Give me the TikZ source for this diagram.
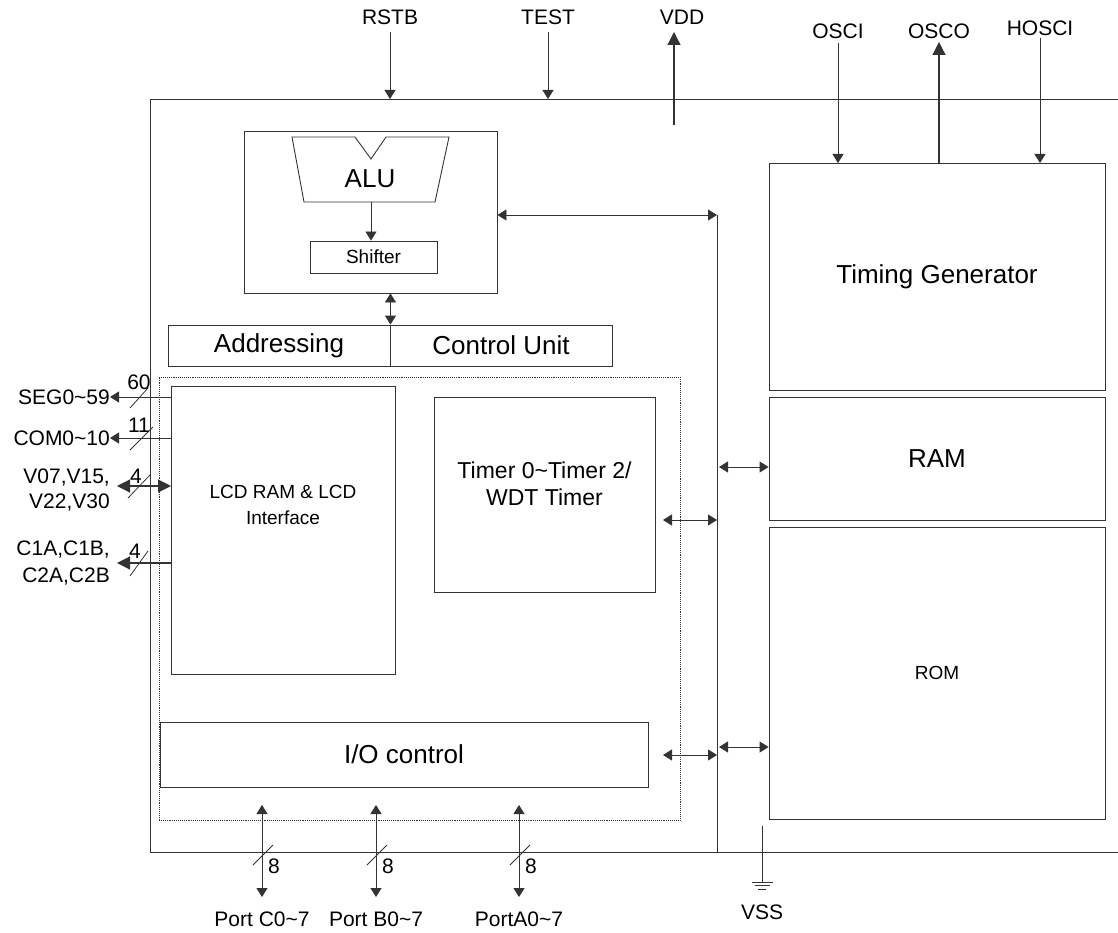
\documentclass[tikz,border=0pt]{standalone}
\usepackage{fontspec}
\setmainfont{Liberation Sans}
\usetikzlibrary{arrows.meta}
\definecolor{ln}{gray}{0.2}
\begin{document}
\begin{tikzpicture}[x=1pt,y=-1pt,
  blk/.style={draw=ln, line width=0.9pt, inner sep=0pt},
  big/.style={font=\fontsize{26}{30}\selectfont},
  mid/.style={font=\fontsize{19}{26}\selectfont, align=center},
  pin/.style={font=\fontsize{21}{25}\selectfont, inner sep=0pt},
  prt/.style={font=\fontsize{21}{24}\selectfont, inner sep=0pt},
  num/.style={font=\fontsize{21}{23}\selectfont, inner sep=0pt},
  wire/.style={draw=ln, line width=0.9pt},
  arr/.style={wire, -{Triangle[length=9pt,width=11pt]}},
  darr/.style={wire, {Triangle[length=9pt,width=11pt]}-{Triangle[length=9pt,width=11pt]}},
  bdarr/.style={wire, line width=1.2pt, {Triangle[length=13pt,width=13pt]}-{Triangle[length=13pt,width=13pt]}},
  barr/.style={wire, line width=1.2pt, -{Triangle[length=13pt,width=13pt]}},
  slash/.style={draw=ln, line width=0.8pt}
]
\useasboundingbox (0,0) rectangle (1118,933);
\fill[white] (0,0) rectangle (1118,933);

% outer chip outline (cut at right edge)
\draw[wire] (1118,99) -- (150,99) -- (150,852) -- (1118,852);

% ALU block
\node[blk, minimum width=253, minimum height=162] (alubox) at (370.5,212) {};
\draw[wire] (292,137) -- (355,137) -- (371,159) -- (386,137) -- (449,137) -- (435,202) -- (304,202) -- cycle;
\node[big] (alu) at (370,179) {ALU};
\coordinate (alubot) at (371,202);
\node[blk, minimum width=127, minimum height=32, font=\fontsize{19}{22}\selectfont] (shifter) at (373.5,257) {Shifter};
\draw[arr] (alubot) -- (alubot |- shifter.north);

% Addressing / Control unit
\node[blk, big, minimum width=222, minimum height=41] (addr) at (279,345.5) {Addressing};
\node[blk, big, minimum width=222, minimum height=41] (ctrl) at (501,345.5) {Control Unit};
\draw[darr] (alubox.south -| addr.east) -- (addr.north east);

% dotted peripheral area
\node[draw=ln, densely dotted, line width=0.9pt, minimum width=521, minimum height=443, inner sep=0pt] (dots) at (419.5,598.5) {};

% LCD
\node[blk, minimum width=224, minimum height=288] (lcd) at (283,530) {};
\node[mid] (lcdt) at (283,505) {LCD RAM \& LCD\\Interface};

% Timer
\node[blk, minimum width=221, minimum height=195] (timer) at (544.5,494.5) {};
\node[mid, font=\fontsize{23}{27}\selectfont] (timert) at (544.5,484) {Timer 0\char`\~Timer 2/\\WDT Timer};

% I/O control
\node[blk, big, minimum width=488, minimum height=65] (io) at (404,754.5) {I/O control};

% right blocks
\node[blk, big, minimum width=336, minimum height=227] (tg) at (937,276.5) {Timing Generator};
\node[blk, big, minimum width=336, minimum height=123] (ram) at (937,458.5) {RAM};
\node[blk, minimum width=336, minimum height=292, font=\fontsize{19}{22}\selectfont] (rom) at (937,673) {ROM};

% internal bus
\coordinate (bt) at (717,215);
\coordinate (bb) at (717,852);
\draw[wire] (bt) -- (bb);
\draw[darr] (alubox.east |- bt) -- (bt);
\coordinate (b1) at (719,467);
\draw[darr] (b1) -- (b1 -| ram.west);
\coordinate (t1) at (663,520);
\draw[darr] (t1) -- (t1 -| bt);
\coordinate (i1) at (663,755);
\draw[darr] (i1) -- (i1 -| bt);
\coordinate (b2) at (719,747);
\draw[darr] (b2) -- (b2 -| rom.west);

% top pins
\node[pin] (rstb) at (390,17) {RSTB};
\node[pin] (test) at (548,17) {TEST};
\node[pin] (vdd) at (682,17) {VDD};
\node[pin] (osci) at (838,31) {OSCI};
\node[pin] (osco) at (939,31) {OSCO};
\node[pin] (hosci) at (1040,28) {HOSCI};
\coordinate (rstbend) at (390,99);
\coordinate (testend) at (548,99);
\draw[arr] (rstb.south |- 0,32) -- (rstbend);
\draw[arr] (test.south |- 0,32) -- (testend);
\coordinate (vddbot) at (674,125);
\draw[barr] (vddbot) -- (674,32);
\coordinate (oscin) at (838,163);
\draw[arr] (osci.south) ++(0,4) -- (oscin);
\coordinate (oscout) at (939,163);
\draw[barr] (oscout) -- (939,42);
\coordinate (hoscin) at (1040,163);
\draw[arr] (hosci.south) ++(0,2) -- (hoscin);

% left pins
\node[pin, anchor=east] (seg) at (110,397) {SEG0\char`\~59};
\node[pin, anchor=east] (com) at (110,438) {COM0\char`\~10};
\node[pin, anchor=east, align=right, font=\fontsize{21}{25}\selectfont] (vlcd) at (110,490) {V07,V15,\\V22,V30};
\node[pin, anchor=east, align=right, font=\fontsize{21}{27}\selectfont] (cap) at (110,563) {C1A,C1B,\\C2A,C2B};

\coordinate (segs) at (171,397);
\draw[arr] (segs) -- (seg.east);
\draw[slash] (130,408) -- (148,388);
\node[num] (n60) at (139,382) {60};

\coordinate (coms) at (171,438);
\draw[arr] (coms) -- (com.east);
\draw[slash] (130,450) -- (153,427);
\node[num] (n11) at (139,425) {11};

\coordinate (vs) at (171,486);
\draw[bdarr] (vs) -- (117,486);
\draw[slash] (128,498) -- (150,475);
\node[num] (n4a) at (136,476) {4};

\coordinate (cs) at (171,563);
\draw[barr] (cs) -- (117,563);
\draw[slash] (130,576) -- (148,551);
\node[num] (n4b) at (135,551) {4};

% bottom ports
\foreach \x/\nm/\lab in {262/pc/Port C0\char`\~7, 376/pb/Port B0\char`\~7, 519/pa/PortA0\char`\~7}{
  \node[prt] (\nm) at (\x,919) {\lab};
  \coordinate (\nm top) at (\x,805);
  \coordinate (\nm bot) at (\x,897);
  \draw[darr] (\nm top) -- (\nm bot);
  \draw[slash] (\x-9,865) -- (\x+11,845);
  \node[num] (\nm n) at (\x+12,866) {8};
}

% VSS ground
\node[pin] (vss) at (762,912) {VSS};
\coordinate (gtop) at (762,826);
\coordinate (gnd) at (762,882);
\draw[wire] (gtop) -- (gnd);
\draw[wire] (751.5,882) -- (772.5,882);
\draw[wire] (754.5,885.5) -- (769.5,885.5);
\draw[wire] (758,889) -- (766,889);
\end{tikzpicture}
\end{document}
